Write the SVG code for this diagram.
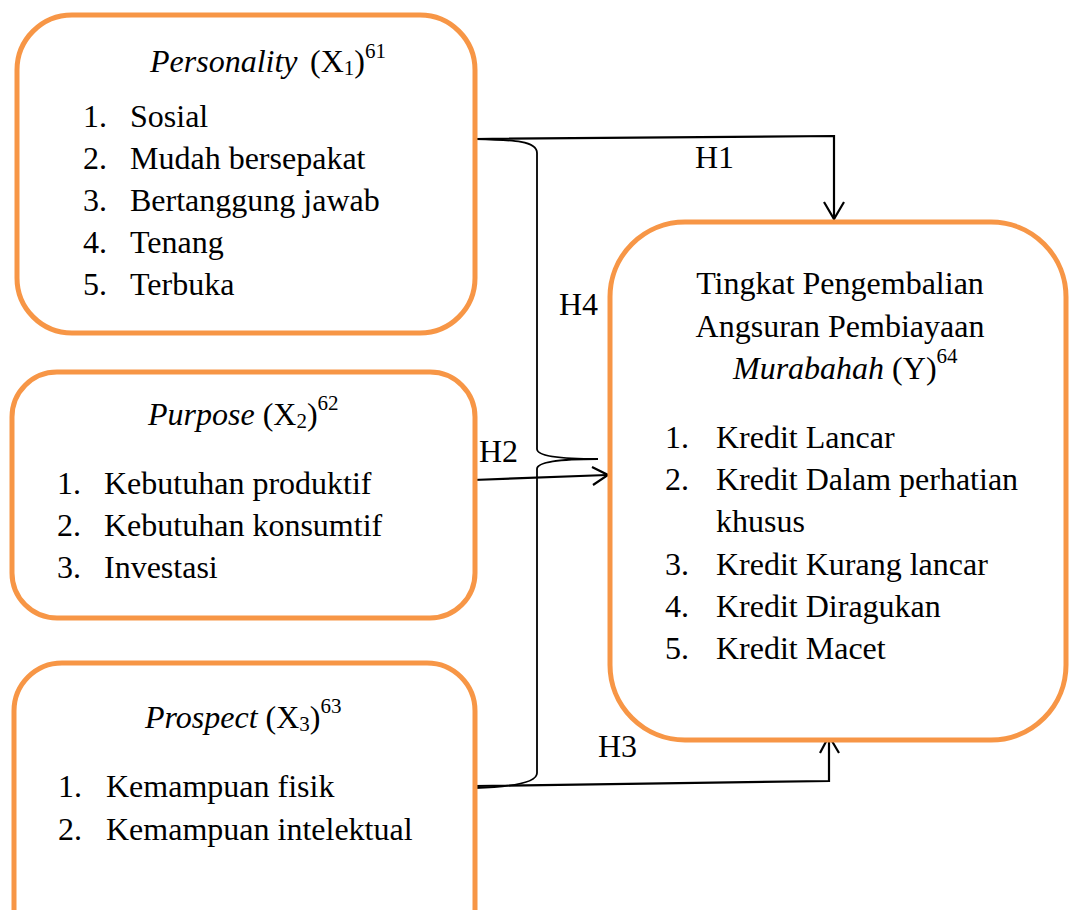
<svg xmlns="http://www.w3.org/2000/svg" width="1072" height="910" viewBox="0 0 1072 910">
<defs>
<style>
.box{fill:#ffffff;stroke:#F79646;stroke-width:5}
text{font-family:"Liberation Serif","Times New Roman",serif;font-size:32px;fill:#000}
.it{font-style:italic}
.sm{font-size:21px}
.c{text-anchor:middle}
.ln{fill:none;stroke:#000;stroke-width:2.2;stroke-linejoin:miter}
.br{fill:none;stroke:#000;stroke-width:1.8}
</style>
</defs>
<rect width="1072" height="910" fill="#ffffff"/>

<g id="connectors">
<path class="br" d="M475,139 C515,140 537,141 537,153 L537,449 C537,456 560,459 598,459"/>
<path class="br" d="M598,459 C560,459 537,462 537,469 L537,773 C537,783 510,787 475,788"/>
<path class="ln" d="M475,139 L834,136 L834,219"/>
<path class="ln" d="M824,202 L834,219 L844,202"/>
<path class="ln" d="M473,480 L607,475"/>
<path class="ln" d="M592,467 L608,475 L593,485"/>
<path class="ln" d="M475,786 L829,781 L829,737"/>
<path class="ln" d="M820,753 L829,736 L839,753"/>
<text x="695" y="168">H1</text>
<text x="479" y="462">H2</text>
<text x="598" y="757">H3</text>
<text x="559" y="315">H4</text>
</g>

<g id="x1">
<rect class="box" x="17" y="15" width="458" height="318" rx="55" ry="55"/>
<text x="150" y="72"><tspan class="it">Personality</tspan><tspan x="310">(X</tspan><tspan class="sm" dy="3">1</tspan><tspan dy="-3">)</tspan><tspan class="sm" dy="-14">61</tspan></text>
<text x="83" y="127">1.</text><text x="130" y="127">Sosial</text>
<text x="83" y="169">2.</text><text x="130" y="169">Mudah bersepakat</text>
<text x="83" y="211">3.</text><text x="130" y="211">Bertanggung jawab</text>
<text x="83" y="253">4.</text><text x="130" y="253">Tenang</text>
<text x="83" y="295">5.</text><text x="130" y="295">Terbuka</text>
</g>

<g id="x2">
<rect class="box" x="12" y="372" width="463" height="246" rx="45" ry="45"/>
<text x="148" y="425"><tspan class="it">Purpose</tspan> (X<tspan class="sm" dy="3">2</tspan><tspan dy="-3">)</tspan><tspan class="sm" dy="-15">62</tspan></text>
<text x="57" y="494">1.</text><text x="104" y="494">Kebutuhan produktif</text>
<text x="57" y="536">2.</text><text x="104" y="536">Kebutuhan konsumtif</text>
<text x="57" y="578">3.</text><text x="104" y="578">Investasi</text>
</g>

<g id="x3">
<rect class="box" x="14" y="663" width="461" height="300" rx="48" ry="48"/>
<text x="145" y="728"><tspan class="it">Prospect</tspan> (X<tspan class="sm" dy="3">3</tspan><tspan dy="-3">)</tspan><tspan class="sm" dy="-15">63</tspan></text>
<text x="58" y="797">1.</text><text x="106" y="797">Kemampuan fisik</text>
<text x="58" y="840">2.</text><text x="106" y="840">Kemampuan intelektual</text>
</g>

<g id="y">
<rect class="box" x="610" y="222" width="456" height="518" rx="75" ry="75"/>
<text class="c" x="840" y="294">Tingkat Pengembalian</text>
<text class="c" x="840" y="337">Angsuran Pembiayaan</text>
<text x="733" y="379"><tspan class="it">Murabahah</tspan> (Y)<tspan class="sm" dy="-16">64</tspan></text>
<text x="665" y="448">1.</text><text x="716" y="448">Kredit Lancar</text>
<text x="665" y="490">2.</text><text x="716" y="490">Kredit Dalam perhatian</text>
<text x="716" y="532">khusus</text>
<text x="665" y="575">3.</text><text x="716" y="575">Kredit Kurang lancar</text>
<text x="665" y="617">4.</text><text x="716" y="617">Kredit Diragukan</text>
<text x="665" y="659">5.</text><text x="716" y="659">Kredit Macet</text>
</g>
</svg>
